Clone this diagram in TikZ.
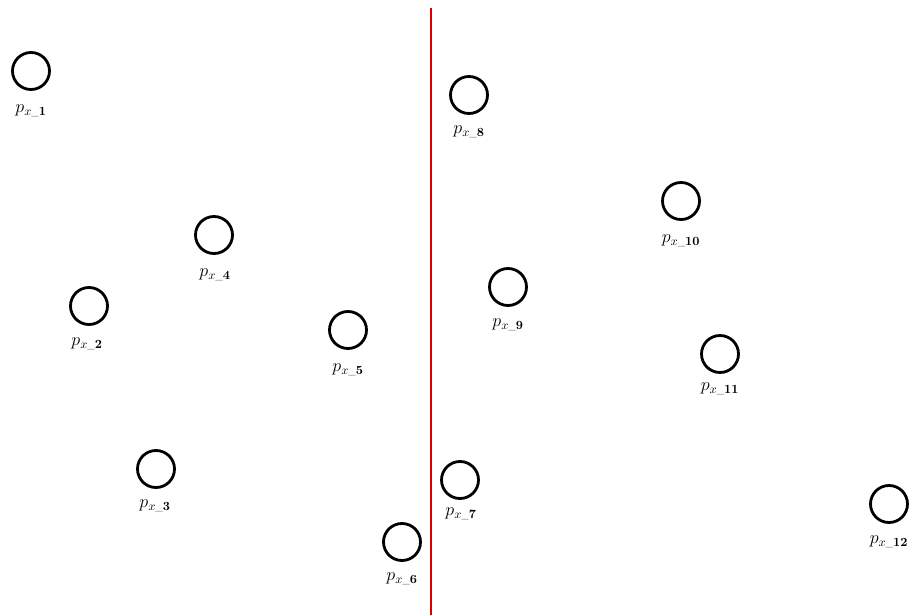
\documentclass[tikz,border=0pt]{standalone}
\begin{document}
\begin{tikzpicture}[x=1pt,y=-1pt,
  pt/.style={circle,draw=black,line width=2.8pt,minimum size=37pt,inner sep=0pt},
  lab/.style={font=\Large,scale=1.25,inner sep=0pt},
  sep/.style={draw=red!85!black,line width=2.6pt}]
\useasboundingbox (0,0) rectangle (910,615);
\foreach \n/\x/\y/\lx/\ly in {1/31/71/31/111, 2/89/306/87/344, 3/156/469/155/506, 4/214/235/215/275,
  5/348/330/348/370, 6/402/542/402/579, 7/460/480/461/514, 8/469/95/469/132,
  9/508/287/508/325, 10/681/201/681/241, 11/720/354/720/389, 12/889/504/889/542}{
  \node[pt] (c\n) at (\x,\y) {};
  \node[lab] (l\n) at (\lx,\ly) {$p_{x\mbox{\scriptsize\_}\mathbf{\n}}$};
}
\coordinate (top) at (431,8);
\coordinate (bot) at (431,615);
\draw[sep] (top) -- (bot);
\end{tikzpicture}
\end{document}
